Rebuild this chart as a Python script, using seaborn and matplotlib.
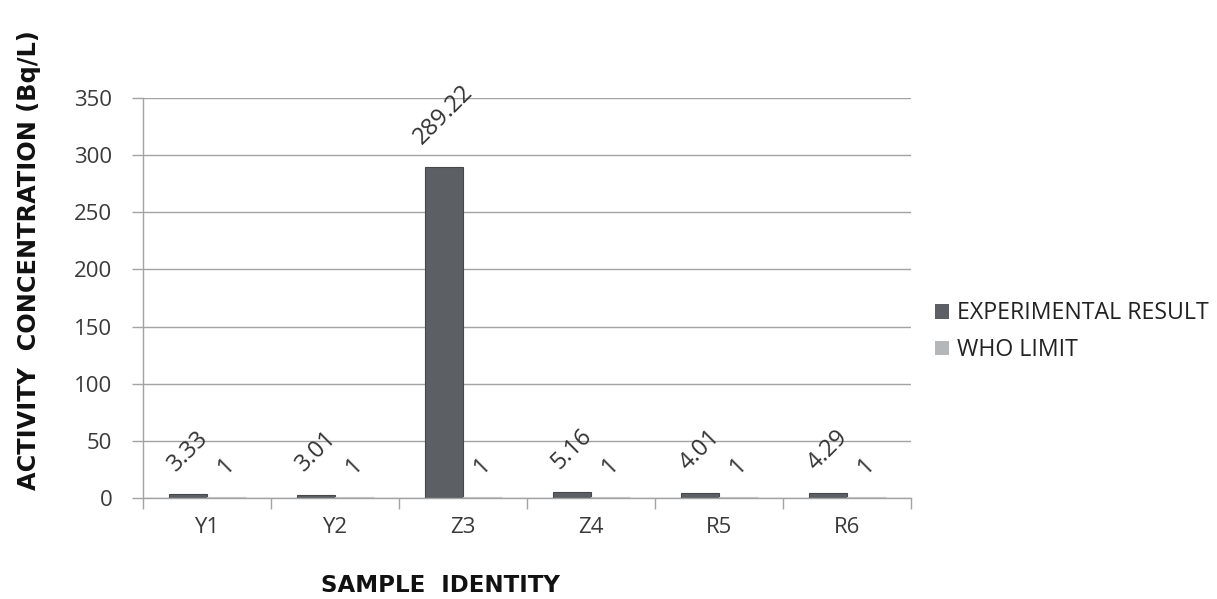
import matplotlib
matplotlib.use("Agg")
import matplotlib.pyplot as plt
import seaborn as sns
import pandas as pd

# Sample identities and measured activity concentrations (Bq/L)
samples = ["Y1", "Y2", "Z3", "Z4", "R5", "R6"]
experimental = [3.33, 3.01, 289.22, 5.16, 4.01, 4.29]
who_limit = [1, 1, 1, 1, 1, 1]
series_names = ["EXPERIMENTAL RESULT", "WHO LIMIT"]
y_ticks = [0, 50, 100, 150, 200, 250, 300, 350]

df = pd.DataFrame({
    "sample": samples * 2,
    "value": experimental + who_limit,
    "series": [series_names[0]] * len(samples) + [series_names[1]] * len(samples),
})

sns.set_theme(style="white")
plt.rcParams["font.family"] = ["Open Sans", "DejaVu Sans"]

fig = plt.figure(figsize=(12.17, 5.99), dpi=100)
ax = fig.add_axes([0.1175, 0.1686, 0.6311, 0.6678])

palette = {series_names[0]: "#5c6064", series_names[1]: "#b4b6b8"}
sns.barplot(data=df, x="sample", y="value", hue="series", palette=palette,
            width=0.6, dodge=True, saturation=1, ax=ax, legend=True,
            edgecolor="none")

# Slight darker rim on the bars
for cont in ax.containers:
    for bar in cont:
        bar.set_edgecolor("#45484b" if bar.get_facecolor()[0] < 0.5 else "#c8c9ca")
        bar.set_linewidth(0.8)

# Value labels, rotated, above each bar
label_color = "#333333"
for cont in ax.containers:
    for bar in cont:
        h = bar.get_height()
        ax.annotate(f"{h:g}", (bar.get_x() + bar.get_width() / 2, h),
                    xytext=(0, 13), textcoords="offset points",
                    ha="center", va="bottom", rotation=45,
                    fontsize=17, color=label_color)

ax.set_ylim(0, 350)
ax.set_yticks(y_ticks)
ax.set_xlim(-0.5, len(samples) - 0.5)
ax.yaxis.grid(True, color="#a3a3a3", linewidth=1.0)
ax.set_axisbelow(True)

# Category boundary ticks on the x axis
ax.set_xticks(range(len(samples)))
ax.set_xticks([i - 0.5 for i in range(len(samples) + 1)], minor=True)
ax.tick_params(axis="x", which="major", length=0, pad=14, labelsize=16,
               labelcolor="#3a3a3a")
ax.tick_params(axis="x", which="minor", length=8, width=1, color="#a3a3a3",
               direction="out", bottom=True)
ax.tick_params(axis="y", length=8, width=1, color="#a3a3a3", direction="out",
               left=True, pad=14, labelsize=16, labelcolor="#3a3a3a")

for side in ["top", "right"]:
    ax.spines[side].set_visible(False)
for side in ["left", "bottom"]:
    ax.spines[side].set_color("#a3a3a3")
    ax.spines[side].set_linewidth(1.0)

ax.set_xlabel("")
ax.set_ylabel("")
fig.text(0.024, 0.566, "ACTIVITY  CONCENTRATION (Bq/L)", rotation=90,
         ha="center", va="center", fontsize=17.3, fontweight="heavy",
         family=["DejaVu Sans"], color="#111111")
fig.text(0.362, 0.004, "SAMPLE  IDENTITY", ha="center", va="bottom",
         fontsize=16.5, fontweight="heavy", family=["DejaVu Sans"],
         color="#111111")

handles, labels = ax.get_legend_handles_labels()
ax.legend(handles, labels, loc="center left",
          bbox_to_anchor=(0.759, 0.446), bbox_transform=fig.transFigure,
          frameon=False, fontsize=16.7, handlelength=0.6, handleheight=0.6,
          handletextpad=0.35, labelspacing=0.55, borderpad=0,
          labelcolor="#222222")

fig.savefig("out.png", dpi=100)
